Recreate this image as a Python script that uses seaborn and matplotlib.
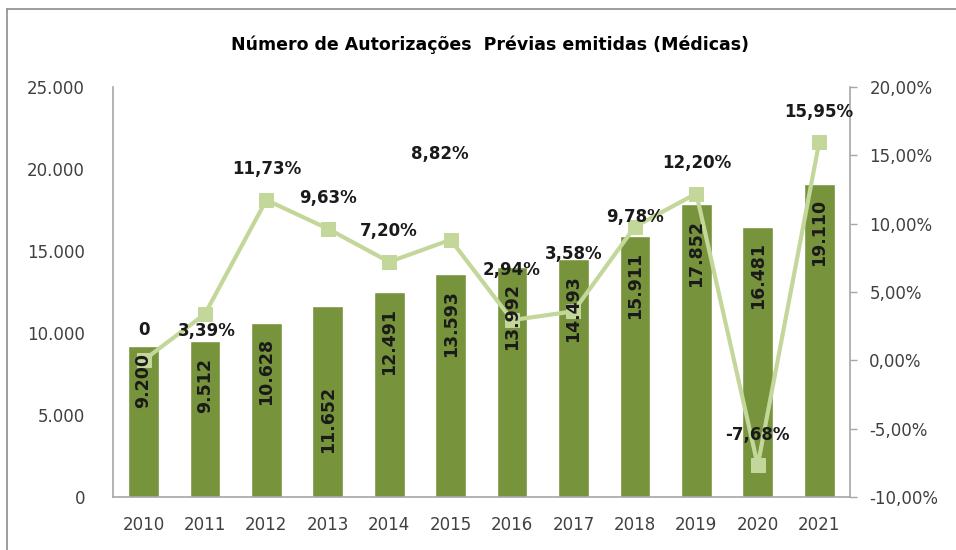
import numpy as np
import matplotlib
matplotlib.use("Agg")
import matplotlib.pyplot as plt
import seaborn as sns
from matplotlib.lines import Line2D

# =========================
# DATA
# =========================
years = ["2010", "2011", "2012", "2013", "2014", "2015",
         "2016", "2017", "2018", "2019", "2020", "2021"]
autorizacoes = [9200, 9512, 10628, 11652, 12491, 13593,
                13992, 14493, 15911, 17852, 16481, 19110]
variacao = [0.0, 3.39, 11.73, 9.63, 7.20, 8.82,
            2.94, 3.58, 9.78, 12.20, -7.68, 15.95]

left_ticks = [0, 5000, 10000, 15000, 20000, 25000]
right_ticks = [-10, -5, 0, 5, 10, 15, 20]

bar_color = "#77933C"
line_color = "#C4D79B"
grey = "#A6A6A6"
text_color = "#404040"
label_color = "#1A1A1A"

# label placement (how far inside the bar the value label is centred)
bar_label_drop = {0: 2070, 1: 2700, 3: 6950}
# offsets (points) of the % labels from their markers
pct_offset = {1: (1.5, -12), 5: (-8, 62), 6: (0, 36), 7: (0, 41), 8: (0, 7)}

sns.set_style("white")
plt.rcParams["font.family"] = ["DejaVu Sans"]

# =========================
# FIGURE
# =========================
fig = plt.figure(figsize=(9.56, 5.5), dpi=100)
ax = fig.add_axes([0.118, 0.0964, 0.771, 0.7455])

sns.barplot(x=years, y=autorizacoes, color=bar_color, width=0.5,
            saturation=1, ax=ax)
ax.set_xlim(-0.5, 11.5)
ax.set_ylim(0, 25000)
ax.set_yticks(left_ticks)
ax.set_yticklabels([f"{t:,}".replace(",", ".") for t in left_ticks])
ax.set_xlabel("")
ax.set_ylabel("")
ax.tick_params(axis="x", labelsize=12, colors=text_color, length=0, pad=14)
ax.tick_params(axis="y", labelsize=12, colors=text_color, length=0, pad=20)
for side in ["top", "right"]:
    ax.spines[side].set_visible(False)
for side in ["left", "bottom"]:
    ax.spines[side].set_color(grey)
    ax.spines[side].set_linewidth(1.2)

# --- secondary axis: variation ---
ax2 = ax.twinx()
xpos = np.arange(len(years))
sns.lineplot(x=xpos, y=variacao, color=line_color, linewidth=3,
             marker="s", markersize=10, markeredgecolor=line_color, ax=ax2)
ax2.set_ylim(-10, 20)
ax2.set_yticks(right_ticks)
ax2.set_yticklabels([f"{t:.2f}%".replace(".", ",") for t in right_ticks])
ax2.tick_params(axis="y", labelsize=12, labelcolor=text_color, color=grey,
                length=5, width=1, pad=9)
for side in ["top", "left", "bottom"]:
    ax2.spines[side].set_visible(False)
ax2.spines["right"].set_color(grey)
ax2.spines["right"].set_linewidth(1.2)

# --- bar value labels (on top of the line) ---
for i, v in enumerate(autorizacoes):
    drop = bar_label_drop.get(i, 3000)
    ax2.text(i, v - drop, f"{v:,}".replace(",", "."), transform=ax.transData,
             rotation=90, ha="center", va="center", fontsize=12.5,
             fontweight="bold", color=label_color, zorder=5)

# --- variation labels ---
for i, p in enumerate(variacao):
    lab = "0" if p == 0 else f"{p:.2f}%".replace(".", ",")
    ax2.annotate(lab, (i, p), xytext=pct_offset.get(i, (0, 22)),
                 textcoords="offset points", ha="center", va="center",
                 fontsize=12, fontweight="bold", color=label_color, zorder=5)

fig.text(0.513, 0.918, "Número de Autorizações  Prévias emitidas (Médicas)",
         ha="center", va="center", fontsize=12.5, fontweight="bold",
         color="black")

# chart frame
fig.add_artist(Line2D([0.007, 0.007], [0, 0.984], color="#8C8C8C", lw=1.2,
                      transform=fig.transFigure))
fig.add_artist(Line2D([0.007, 1], [0.984, 0.984], color="#8C8C8C", lw=1.2,
                      transform=fig.transFigure))

fig.savefig("out.png", dpi=100)
